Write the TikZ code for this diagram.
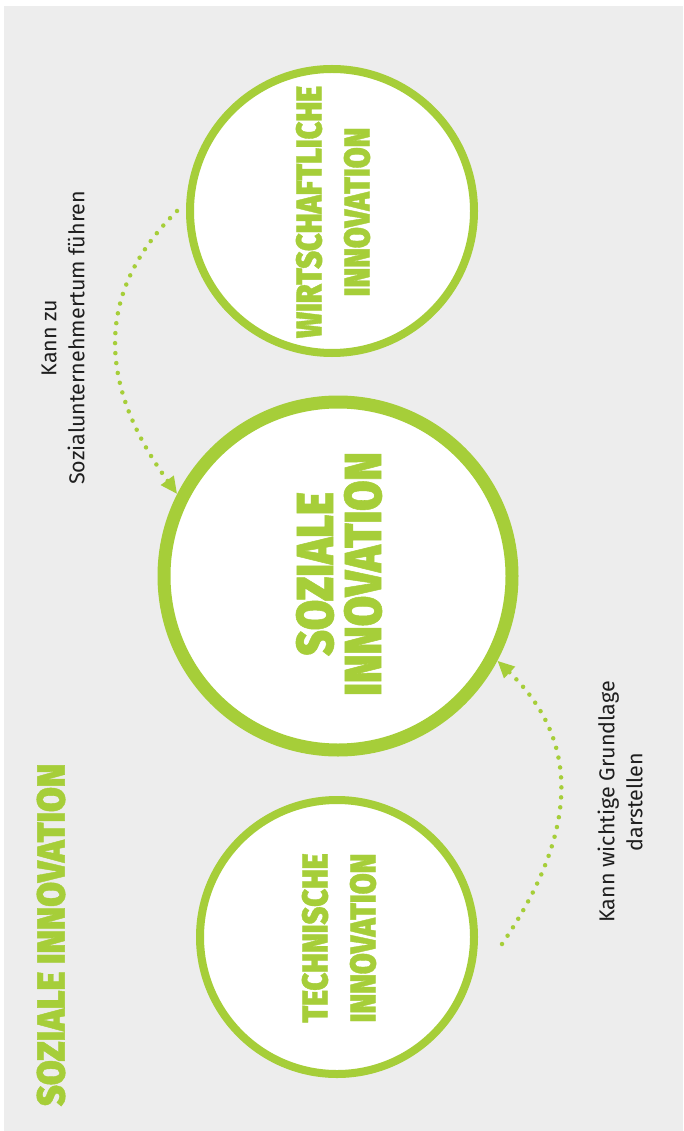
\documentclass[tikz,border=0pt]{standalone}
\usepackage{fontspec}
\setsansfont{Fira Sans}
\newfontfamily\heavyfont{Fira Sans Black}[FakeStretch=0.84, FakeBold=1]
\newfontfamily\titlefont{Fira Sans Black}[FakeStretch=0.92, FakeBold=1]
\usetikzlibrary{arrows.meta}

\definecolor{leaf}{HTML}{A6CE39}
\definecolor{paper}{HTML}{EDEDED}
\definecolor{ink}{HTML}{1E1E1E}

\tikzset{
    ring/.style={circle, draw=leaf, fill=white, inner sep=0pt},
    heavy/.style={rotate=90, text=leaf, align=center},
    note/.style={rotate=90, text=ink, align=center, font=\sffamily\fontsize{21.5}{28}\selectfont},
    link/.style={draw=leaf, line width=4.5pt, line cap=round, dash pattern=on 0pt off 10pt,
        -{Triangle[length=17pt, width=15pt]}}
}

\begin{document}
\begin{tikzpicture}[x=1pt, y=-1pt]
    \useasboundingbox (0,0) rectangle (683,1131);
    \fill[white] (0,0) rectangle (683,1131);
    \fill[paper] (4,6) rectangle (683,1131);

    \node[ring, line width=8pt, minimum size=284pt] (wirt) at (332,211) {};
    \node[ring, line width=13pt, minimum size=348pt] (soz) at (338,576) {};
    \node[ring, line width=8pt, minimum size=274pt] (tech) at (337,937) {};

    \node[heavy, font=\heavyfont\fontsize{36}{48}\selectfont] (wirttext) at (333,212) {WIRTSCHAFTLICHE\\INNOVATION};
    \node[heavy, font=\heavyfont\fontsize{52}{48}\selectfont] (soztext) at (339,574) {SOZIALE\\INNOVATION};
    \node[heavy, font=\heavyfont\fontsize{36}{48}\selectfont] (techtext) at (339,938) {TECHNISCHE\\INNOVATION};

    \node[heavy, font=\titlefont\fontsize{39}{48}\selectfont] (title) at (51,935) {SOZIALE INNOVATION};

    \node[note] (note1) at (63,338) {Kann zu\\Sozialunternehmertum führen};
    \node[note] (note2) at (620,802) {Kann wichtige Grundlage\\darstellen};

    \draw[link] ([xshift=-9pt]wirt.west) .. controls (96,291) and (96,382) .. (soz.153);
    \draw[link] ([shift={(24pt,-7pt)}]tech.east) .. controls (580,830) and (580,740) .. (soz.-28);
\end{tikzpicture}
\end{document}
